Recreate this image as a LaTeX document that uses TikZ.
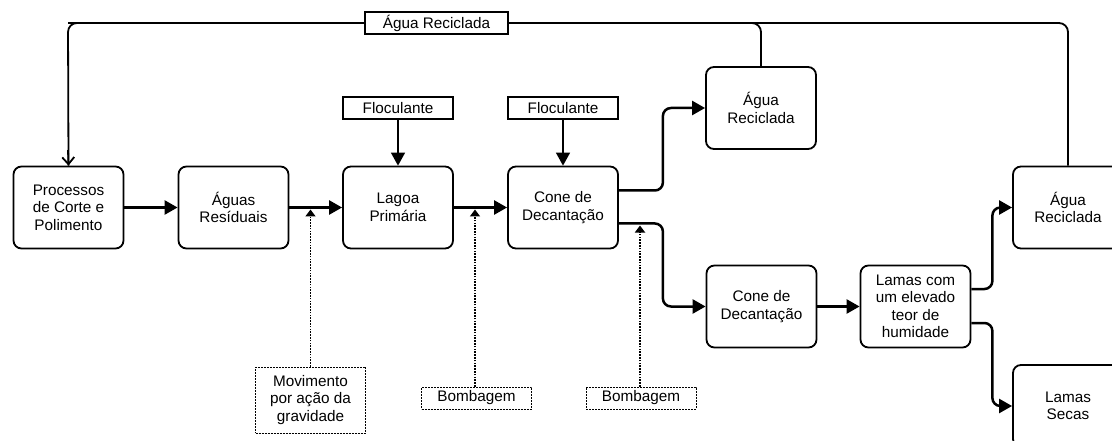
\documentclass[tikz,border=0pt]{standalone}
\usepackage{fontspec}
\setmainfont{Liberation Sans}
\usetikzlibrary{arrows.meta}
\begin{document}
\begin{tikzpicture}[x=1pt,y=-1pt,
  txt/.style={font=\fontsize{15.3}{17.5}\selectfont, align=center, inner sep=0pt},
  stage/.style={txt, draw, line width=1.8pt, rounded corners=8pt,
    minimum width=110pt, minimum height=82pt},
  feed/.style={txt, draw, line width=1.3pt, fill=white,
    minimum width=110pt, minimum height=22pt},
  aux/.style={txt, draw, line width=0.9pt, dash pattern=on 2pt off 1pt,
    minimum width=110pt},
  flow/.style={line width=2.5pt, rounded corners=8pt,
    -{Triangle[length=13pt,width=14pt]}},
  drop/.style={line width=1.5pt, -{Triangle[length=13pt,width=14pt]}},
  loopline/.style={line width=1.8pt, rounded corners=9pt},
  push/.style={line width=1.9pt, dash pattern=on 1.6pt off 1.2pt,
    -{Triangle[length=7pt,width=10pt]}}
]
\useasboundingbox (0,0) rectangle (1112,441);
\clip (0,0) rectangle (1112,441);

% process stages
\node[stage] (proc)  at (68.5,207.5)  {Processos\\de Corte e\\Polimento};
\node[stage] (agu)   at (233.5,207.5) {Águas\\Resíduais};
\node[stage] (lag)   at (398,207.5)   {Lagoa\\Primária};
\node[stage] (cone1) at (563,207.5)   {Cone de\\Decantação};
\node[stage] (ar1)   at (761,108)     {Água\\Reciclada};
\node[stage] (cone2) at (761.5,306.5) {Cone de\\Decantação};
\node[stage] (lamas) at (915.5,306.5) {Lamas com\\um elevado\\teor de\\humidade};
\node[stage] (ar2)   at (1068,207.5)  {Água\\Reciclada};
\node[stage] (secas) at (1068,406)    {Lamas\\Secas};

% flocculant inputs
\node[feed] (floc1) at (398,108) {Floculante};
\node[feed] (floc2) at (563,108) {Floculante};

% transport modes
\node[aux, minimum height=66pt] (mov)   at (310.5,400) {Movimento\\por ação da\\gravidade};
\node[aux, minimum height=22pt] (bomb1) at (476.5,398) {Bombagem};
\node[aux, minimum height=22pt] (bomb2) at (641,398)   {Bombagem};

% recycled water loop
\coordinate (topleft) at (68,23);
\draw[loopline] (ar2.north) |- (topleft) -- (proc.north);
\draw[loopline] (ar1.north) |- (topleft);
\draw[line width=1.8pt, -{Straight Barb[length=7pt,width=12pt]}] (68,150) -- (proc.north);
\node[feed, minimum width=143pt] (lbl) at (436.5,23) {Água Reciclada};

% main flow
\draw[flow] (proc) -- (agu);
\draw[flow] (agu) -- (lag);
\draw[flow] (lag) -- (cone1);
\draw[flow] ([yshift=17pt]cone1.east) -- ++(44,0) |- (ar1.west);
\draw[flow] ([yshift=-16pt]cone1.east) -- ++(44,0) |- (cone2.west);
\draw[flow] (cone2) -- (lamas);
\draw[flow] ([yshift=17.5pt]lamas.east) -- ++(21,0) |- (ar2.west);
\draw[flow] ([yshift=-16.5pt]lamas.east) -- ++(21,0) |- (secas.west);

\draw[drop] (floc1) -- (lag);
\draw[drop] (floc2) -- (cone1);

% transport-mode pointers
\coordinate (p1) at (mov.north |- 0,209.5);
\coordinate (p2) at (475,209.5);
\coordinate (p3) at (640,225.5);
\draw[push] (mov.north) -- (p1);
\draw[push] (bomb1.north -| p2) -- (p2);
\draw[push] (bomb2.north -| p3) -- (p3);
\end{tikzpicture}
\end{document}
